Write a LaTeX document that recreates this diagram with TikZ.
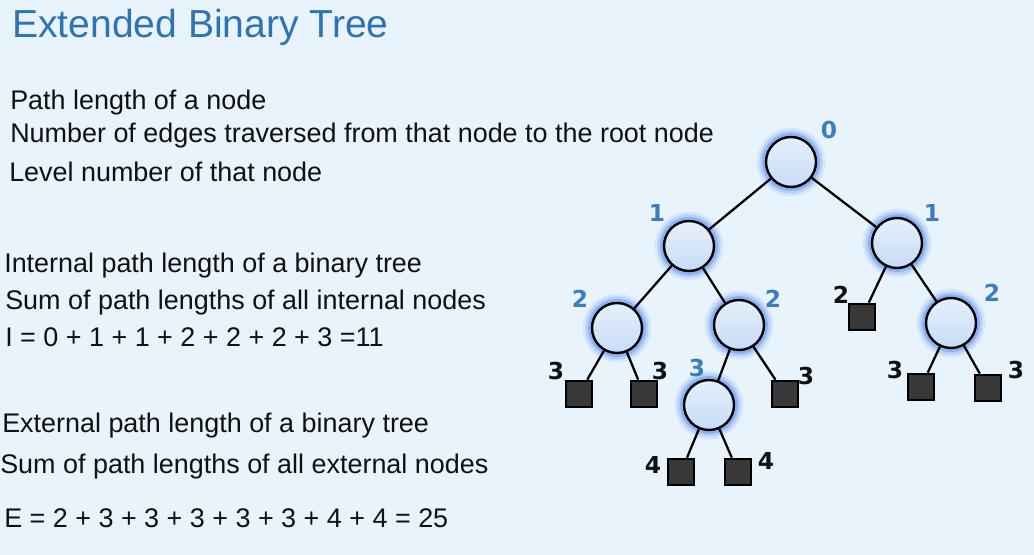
\documentclass[tikz,border=0pt]{standalone}
\usepackage{fontspec}
\setmainfont{Liberation Sans}
\newfontfamily\numfont{DejaVu Sans}
\begin{document}
\definecolor{pagebg}{HTML}{E8F3FC}
\definecolor{titleblue}{HTML}{2E74B5}
\definecolor{lvlblue}{HTML}{3B7DBF}
\definecolor{glowblue}{HTML}{4F86EE}
\definecolor{nodefill}{HTML}{C6DCF6}
\definecolor{extfill}{HTML}{383838}
\definecolor{textdark}{HTML}{111111}
\begin{tikzpicture}[x=0.75pt,y=-0.75pt,
  txt/.style={anchor=base west,inner sep=0pt,font=\fontsize{20.2}{24}\selectfont,text=textdark},
  intnode/.style={circle,minimum size=37.5pt,inner sep=0pt,draw=black,line width=1.8pt,
    top color=nodefill!45!white,bottom color=nodefill,
    preaction={draw=glowblue,line width=14pt,opacity=0.12},
    preaction={draw=glowblue,line width=10pt,opacity=0.22},
    preaction={draw=glowblue,line width=6pt,opacity=0.40}},
  extnode/.style={rectangle,minimum size=20pt,inner sep=0pt,draw=black,line width=1.5pt,fill=extfill},
  edge/.style={draw=black,line width=1.7pt},
  lvl/.style={font=\numfont\bfseries\fontsize{17.5}{18}\selectfont,text=lvlblue,inner sep=0pt},
  lvlk/.style={font=\numfont\bfseries\fontsize{17.5}{18}\selectfont,text=textdark,inner sep=0pt}]
\fill[pagebg] (0,0) rectangle (1034,555);
\useasboundingbox (0,0) rectangle (1034,555);

% heading and explanatory text
\node[anchor=base west,inner sep=0pt,font=\fontsize{29.3}{34}\selectfont,text=titleblue] (title) at (12,38) {Extended Binary Tree};
\node[txt] (t1) at (10,110) {Path length of a node};
\node[txt] (t2) at (10,143) {Number of edges traversed from that node to the root node};
\node[txt] (t3) at (9,182) {Level number of that node};
\node[txt] (t4) at (4,273) {Internal path length of a binary tree};
\node[txt] (t5) at (5,310) {Sum of path lengths of all internal nodes};
\node[txt] (t6) at (5,347) {I = 0 + 1 + 1 + 2 + 2 + 2 + 3 =11};
\node[txt] (t7) at (2,432) {External path length of a binary tree};
\node[txt] (t8) at (0,473) {Sum of path lengths of all external nodes};
\node[txt] (t9) at (4,527) {E = 2 + 3 + 3 + 3 + 3 + 3 + 4 + 4 = 25};

% internal nodes
\node[intnode] (r)   at (791,162) {};
\node[intnode] (a)   at (689,246) {};
\node[intnode] (b)   at (897,243) {};
\node[intnode] (aa)  at (617,328) {};
\node[intnode] (ab)  at (739,325) {};
\node[intnode] (bb)  at (951,323) {};
\node[intnode] (aba) at (709,405) {};

% external nodes
\node[extnode] (ba)   at (862,317) {};
\node[extnode] (aa1)  at (579,394) {};
\node[extnode] (aa2)  at (644,394) {};
\node[extnode] (ab2)  at (785,394) {};
\node[extnode] (bb1)  at (921,387) {};
\node[extnode] (bb2)  at (988,388) {};
\node[extnode] (aba1) at (681,472) {};
\node[extnode] (aba2) at (738,472) {};

% edges
\draw[edge] (r) -- (a);
\draw[edge] (r) -- (b);
\draw[edge] (a) -- (aa);
\draw[edge] (a) -- (ab);
\draw[edge] (b) -- (ba);
\draw[edge] (b) -- (bb);
\draw[edge] (aa) -- (aa1);
\draw[edge] (aa) -- (aa2);
\draw[edge] (ab) -- (aba);
\draw[edge] (ab) -- (ab2);
\draw[edge] (bb) -- (bb1);
\draw[edge] (bb) -- (bb2);
\draw[edge] (aba) -- (aba1);
\draw[edge] (aba) -- (aba2);

% level numbers
\node[lvl] (lr)   at (829,130) {0};
\node[lvl] (la)   at (657,213) {1};
\node[lvl] (lb)   at (932,213) {1};
\node[lvl] (laa)  at (580,299) {2};
\node[lvl] (lab)  at (773,299) {2};
\node[lvl] (lbb)  at (992,293) {2};
\node[lvl] (laba) at (697,368) {3};
\node[lvlk] (lba)   at (841,295) {2};
\node[lvlk] (laa1)  at (556,371) {3};
\node[lvlk] (laa2)  at (660,371) {3};
\node[lvlk] (lab2)  at (806,376) {3};
\node[lvlk] (lbb1)  at (895,370) {3};
\node[lvlk] (lbb2)  at (1016,370) {3};
\node[lvlk] (laba1) at (653,465) {4};
\node[lvlk] (laba2) at (766,461) {4};
\end{tikzpicture}
\end{document}
